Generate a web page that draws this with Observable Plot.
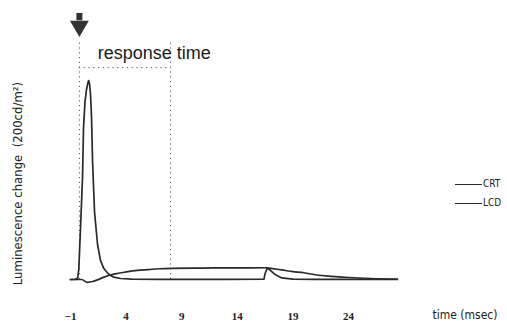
<!DOCTYPE html>
<html><head><meta charset="utf-8">
<script src="https://cdn.jsdelivr.net/npm/d3@7"></script>
<script src="https://cdn.jsdelivr.net/npm/@observablehq/plot@0.6"></script>
<style>
body{margin:0;background:#fff;}
#chart{position:relative;width:507px;height:328px;overflow:hidden;}
.legend{position:absolute;left:455px;font:10px "DejaVu Sans Condensed","DejaVu Sans",sans-serif;color:#222;display:flex;align-items:center;line-height:10px;}
.legend .sw{display:inline-block;width:27px;height:0;border-top:1.6px solid #2a2a2a;margin-right:1px;}
</style></head><body><div id="chart"></div>
<script>
// CRT series (time in msec, luminescence change in arbitrary units)
const crtTime  = [-1, -0.6, -0.35, -0.25, -0.1, 0.08, 0.17, 0.3, 0.44, 0.55, 0.63, 0.72, 0.8, 0.89, 0.98, 1.16, 1.43, 1.7, 2.0, 2.3, 2.6, 2.9, 3.5, 4.5, 7, 10, 13, 16.4, 16.5, 16.7, 17.0, 17.4, 18.0, 19, 21, 23, 25, 27, 28.4];
const crtValue = [0, 0, 0.8, 5.5, 25.8, 51, 76, 89, 95.5, 98.5, 100, 98, 93, 82, 60, 34, 17.7, 9.5, 5.5, 3.5, 2, 1.2, 0.5, 0.2, 0.1, 0.1, 0.1, 0.2, 3, 5.7, 4.5, 2.5, 0.8, 0.2, 0.1, 0.1, 0.1, 0.1, 0];
// LCD series
const lcdTime  = [-1, 0, 0.5, 1.0, 1.5, 2.0, 3.0, 4.0, 5.0, 6.0, 7.0, 8.0, 10, 12, 14, 16.6, 17.0, 18.0, 19.0, 20.0, 21.0, 22.0, 24, 26, 28.4];
const lcdValue = [0, 0, -1.4, -1, 0, 1.2, 2.8, 3.8, 4.6, 5.0, 5.4, 5.6, 5.7, 5.8, 5.8, 5.9, 5.6, 4.8, 4.0, 3.4, 2.4, 1.8, 1.0, 0.5, 0.2];
const seriesNames = ["CRT", "LCD"];
const xTicks = [-1, 4, 9, 14, 19, 24];
const xLabel = "time (msec)";
const yLabel = "Luminescence change  (200cd/m\u00B2)";
const annotation = "response time";
const responseStart = -0.2;
const responseEnd = 8.0;

const crt = crtTime.map((t, i) => ({t, v: crtValue[i]}));
const lcd = lcdTime.map((t, i) => ({t, v: lcdValue[i]}));
const lineColor = "#2a2a2a";
const dotted = {stroke: "#555", strokeWidth: 1, strokeDasharray: "1.2,3.6"};

const plot = Plot.plot({
  width: 507, height: 328,
  marginTop: 0, marginBottom: 20, marginLeft: 0, marginRight: 0,
  style: {background: "#fff", overflow: "visible"},
  x: {domain: [-1, 24], range: [70, 348], axis: null},
  y: {domain: [0, 100], range: [279, 80], axis: null},
  marks: [
    Plot.ruleX([responseStart, responseEnd], {y1: 0, y2: 120, ...dotted}),
    Plot.ruleY([106.5], {x1: responseStart, x2: responseEnd, ...dotted}),
    Plot.line(lcd, {x: "t", y: "v", stroke: lineColor, strokeWidth: 1.7, curve: "monotone-x"}),
    Plot.line(crt, {x: "t", y: "v", stroke: lineColor, strokeWidth: 1.7, curve: "linear"}),
    Plot.text([annotation], {x: 1.45, y: 113.6, textAnchor: "start", fontSize: 18, fill: "#1a1a1a", fontFamily: "Liberation Sans, Arial, sans-serif"}),
    Plot.ruleX([responseStart], {y1: 130, y2: 133.7, stroke: "#333", strokeWidth: 6}),
    Plot.dot([responseStart], {x: d => d, y: 127.3, symbol: "triangle", rotate: 180, r: 7, fill: "#333", stroke: null}),
    Plot.axisX({ticks: xTicks, tickSize: 0, tickPadding: 4, fontSize: 11, fontWeight: "bold", fontFamily: "Liberation Serif, serif", fill: "#222", label: null}),
    Plot.text([xLabel], {frameAnchor: "bottom-right", dx: -10, dy: 10, textAnchor: "end", fontSize: 12, fill: "#222", fontFamily: "DejaVu Sans Condensed, DejaVu Sans, sans-serif"}),
    Plot.text([yLabel], {x: -5.77, y: 48.2, rotate: -90, fontSize: 13, fill: "#222", fontFamily: "DejaVu Sans Condensed, DejaVu Sans, sans-serif"})
  ]
});
const chart = document.getElementById("chart");
chart.appendChild(plot);
seriesNames.forEach((name, i) => {
  const d = document.createElement("div");
  d.className = "legend";
  d.style.top = (179 + i * 19) + "px";
  d.innerHTML = '<span class="sw"></span>' + name;
  chart.appendChild(d);
});
</script>
</body></html>
